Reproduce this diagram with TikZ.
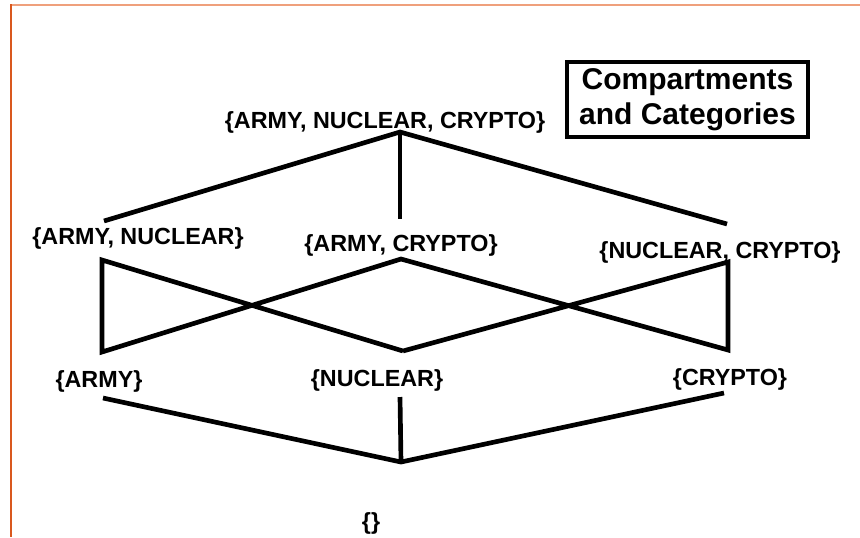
\documentclass[tikz,border=0pt]{standalone}
\usepackage{fontspec}
\setmainfont{Liberation Sans}
\definecolor{frametop}{HTML}{EFA07C}
\definecolor{frameleft}{HTML}{D9581E}
\begin{document}
\begin{tikzpicture}[x=0.75pt,y=-0.75pt,
  lbl/.style={font=\fontsize{17.5}{20}\selectfont\bfseries, inner sep=0pt},
  edge/.style={line width=3.5pt, line join=miter},
  titlebox/.style={draw, line width=3.2pt, minimum width=180.75pt, minimum height=56.25pt,
    align=center, inner sep=0pt, font=\fontsize{22.5}{26.25}\selectfont\bfseries}]
\path[use as bounding box] (0,0) rectangle (860,537);

% page frame
\draw[frametop, line width=1.6pt] (10,5) -- (860,5);
\draw[frameleft, line width=1.6pt] (11,4) -- (11,537);

% title
\node[titlebox] (title) at (687.5,99.5) {Compartments\\and Categories};

% lattice vertices
\coordinate (top) at (400,132);
\coordinate (anU) at (104,221);
\coordinate (acU) at (400,219);
\coordinate (ncU) at (727,224);
\coordinate (anD) at (102,260);
\coordinate (armyU) at (102,352);
\coordinate (acD) at (401,259);
\coordinate (nucU) at (403,351);
\coordinate (ncD) at (728,262);
\coordinate (cryU) at (728,350);
\coordinate (armyD) at (103,398);
\coordinate (nucD) at (400,397);
\coordinate (cryD) at (724,393);
\coordinate (bot) at (401,462);

% labels
\node[lbl] (lANC) at (385,122) {\{ARMY, NUCLEAR, CRYPTO\}};
\node[lbl] (lAN) at (138,238) {\{ARMY, NUCLEAR\}};
\node[lbl] (lAC) at (401,245) {\{ARMY, CRYPTO\}};
\node[lbl] (lNC) at (720,252) {\{NUCLEAR, CRYPTO\}};
\node[lbl] (lA) at (99,381) {\{ARMY\}};
\node[lbl] (lN) at (377,380) {\{NUCLEAR\}};
\node[lbl] (lC) at (730,379) {\{CRYPTO\}};
\node[lbl] (lE) at (371,523) {\{\}};

% edges
\draw[edge] (anU) -- (top) -- (ncU);
\draw[edge] (top) -- (acU);
\draw[edge] (nucU) -- (anD) -- (armyU) -- (acD) -- (cryU) -- (ncD) -- (nucU);
\draw[edge] (armyD) -- (bot) -- (cryD);
\draw[edge] (nucD) -- (bot);
\end{tikzpicture}
\end{document}
